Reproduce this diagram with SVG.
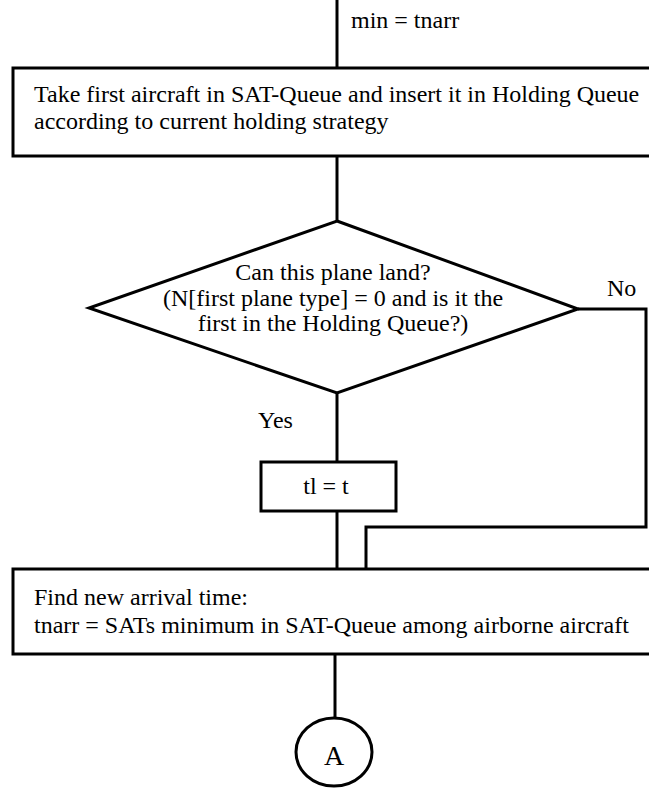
<svg xmlns="http://www.w3.org/2000/svg" width="649" height="788" viewBox="0 0 649 788">
<style>
.s{fill:none;stroke:#000;stroke-width:3}
.b{fill:#fff;stroke:#000;stroke-width:3}
text{font-family:"Liberation Serif","Times New Roman",serif;font-size:24px;fill:#000}
.c{text-anchor:middle}
</style>
<rect width="649" height="788" fill="#fff"/>
<g id="connectors">
<line class="s" x1="337" y1="0" x2="337" y2="68"/>
<line class="s" x1="337" y1="156" x2="337" y2="221"/>
<line class="s" x1="337" y1="393" x2="337" y2="462"/>
<line class="s" x1="337" y1="511" x2="337" y2="569"/>
<polyline class="s" points="578,309 646,309 646,527 366,527 366,569"/>
<line class="s" x1="335" y1="654" x2="335" y2="718"/>
<text x="351" y="28">min = tnarr</text>
<text x="607" y="296">No</text>
<text x="258" y="428">Yes</text>
</g>
<g id="box1">
<rect class="b" x="13" y="68" width="645" height="88"/>
<text x="34" y="102">Take first aircraft in SAT-Queue and insert it in Holding Queue</text>
<text x="34" y="129">according to current holding strategy</text>
</g>
<g id="decision">
<polygon class="b" points="337,221 578,309 337,393 89,308"/>
<text class="c" x="333" y="280">Can this plane land?</text>
<text class="c" x="333" y="306">(N[first plane type] = 0 and is it the</text>
<text class="c" x="333" y="331">first in the Holding Queue?)</text>
</g>
<g id="assign">
<rect class="b" x="261" y="462" width="135" height="49"/>
<text class="c" x="326" y="494">tl = t</text>
</g>
<g id="box3">
<rect class="b" x="13" y="569" width="645" height="85"/>
<text x="34" y="605">Find new arrival time:</text>
<text x="34" y="633">tnarr = SATs minimum in SAT-Queue among airborne aircraft</text>
</g>
<g id="connA">
<ellipse class="b" cx="334" cy="752" rx="38" ry="34"/>
<text class="c" x="334" y="765" style="font-size:28px">A</text>
</g>
</svg>
